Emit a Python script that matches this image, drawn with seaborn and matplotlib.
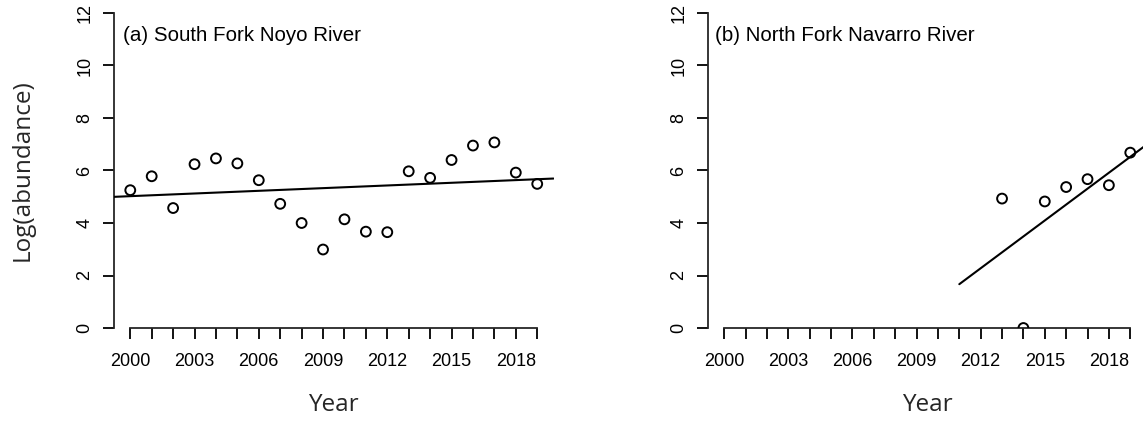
import numpy as np
import pandas as pd
import matplotlib
matplotlib.use("Agg")
import matplotlib.pyplot as plt
import seaborn as sns

# ---------------- data ----------------
years_a = [2000, 2001, 2002, 2003, 2004, 2005, 2006, 2007, 2008, 2009,
           2010, 2011, 2012, 2013, 2014, 2015, 2016, 2017, 2018, 2019]
log_a = [5.25, 5.78, 4.57, 6.24, 6.46, 6.27, 5.63, 4.73, 4.00, 2.99,
         4.14, 3.67, 3.65, 5.97, 5.72, 6.40, 6.95, 7.07, 5.92, 5.49]

years_b = [2013, 2014, 2015, 2016, 2017, 2018, 2019]
log_b = [4.93, 0.0, 4.82, 5.37, 5.67, 5.44, 6.68]

titles = ["(a) South Fork Noyo River", "(b) North Fork Navarro River"]
fit_starts = [None, 2011]          # year where the fitted line begins (None = axis edge)
x_ticks = list(range(2000, 2020))
x_labels = [str(y) if (y - 2000) % 3 == 0 else "" for y in x_ticks]
y_ticks = [0, 2, 4, 6, 8, 10, 12]
x_label = "Year"
y_label = "Log(abundance)"

# ---------------- style ----------------
sns.set_style("ticks")
plt.rcParams["font.family"] = ["Liberation Sans", "DejaVu Sans"]
plt.rcParams["axes.linewidth"] = 1.2

W, H = 1143, 423
fig = plt.figure(figsize=(W / 100, H / 100), dpi=100)

XLIM = (1999.24, 2019.76)
YLIM = (0, 12)

def px_axes(x0, x1, ytop, ybot):
    return [x0 / W, (H - ybot) / H, (x1 - x0) / W, (ybot - ytop) / H]

axes = [fig.add_axes(px_axes(114, 553.5, 13, 328)),
        fig.add_axes(px_axes(708, 1146.5, 13, 328))]

datasets = [(years_a, log_a), (years_b, log_b)]

for i, (ax, (yrs, vals)) in enumerate(zip(axes, datasets)):
    df = pd.DataFrame({"year": yrs, "value": vals})
    ax.set_xlim(*XLIM)
    ax.set_ylim(*YLIM)

    # fitted OLS line
    slope, intercept = np.polyfit(df["year"], df["value"], 1)
    start = XLIM[0] if fit_starts[i] is None else fit_starts[i]
    xs = np.array([start, XLIM[1]])
    fit_df = pd.DataFrame({"year": xs, "fit": intercept + slope * xs})
    sns.lineplot(data=fit_df, x="year", y="fit", ax=ax, color="black",
                 linewidth=1.5, zorder=3)

    # open circles
    sns.scatterplot(data=df, x="year", y="value", ax=ax, marker="o",
                    s=50, facecolors="none", edgecolor="black",
                    linewidth=1.4, zorder=4)

    # axes styling (R base-graphics look)
    for side in ["top", "right"]:
        ax.spines[side].set_visible(False)
    ax.spines["left"].set_bounds(0, 12)
    ax.spines["bottom"].set_bounds(2000, 2019)
    ax.spines["left"].set_linewidth(1.3)
    ax.spines["bottom"].set_linewidth(1.3)

    ax.set_xticks(x_ticks)
    ax.set_xticklabels(x_labels)
    ax.set_yticks(y_ticks)
    ax.set_yticklabels([str(v) for v in y_ticks])
    ax.tick_params(axis="both", direction="out", length=8, width=1.3,
                   labelsize=13, colors="black")
    ax.tick_params(axis="x", pad=10)
    ax.tick_params(axis="y", pad=7)
    for lbl in ax.get_yticklabels():
        lbl.set_rotation(90)
        lbl.set_va("center")

    ax.text(0.02 if i == 0 else 0.016, 0.930, titles[i], transform=ax.transAxes,
            ha="left", va="center", fontsize=14.8, color="black")

    ax.set_xlabel(x_label, fontsize=17.5, family=["Open Sans", "DejaVu Sans"])
    ax.xaxis.label.set_va("center")
    ax.xaxis.set_label_coords(0.5, (328 - 405) / 315)
    if i == 0:
        ax.set_ylabel(y_label, fontsize=17.5, family=["Open Sans", "DejaVu Sans"])
        ax.yaxis.label.set_va("center")
        ax.yaxis.set_label_coords((23 - 114) / 439.5, 0.5)
    else:
        ax.set_ylabel("")

fig.savefig("out.png", dpi=100)
